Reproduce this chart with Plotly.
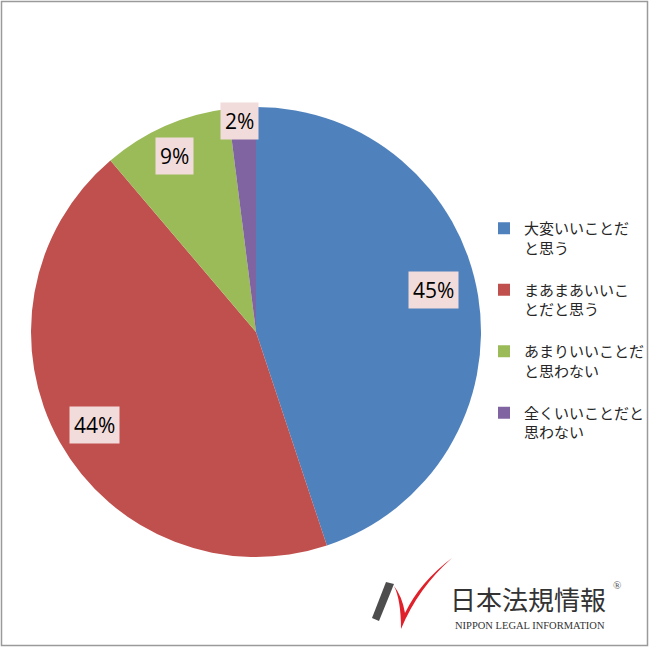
import math
import plotly.graph_objects as go

# ---- data ----
categories = ["大変いいことだと思う", "まあまあいいことだと思う", "あまりいいことだと思わない", "全くいいことだと思わない"]
legend_names = ["大変いいことだ<br>と思う", "まあまあいいこ<br>とだと思う", "あまりいいことだ<br>と思わない", "全くいいことだと<br>思わない"]
values = [44.9, 43.9, 9.2, 2.0]
colors = ["#4f81bd", "#c0504d", "#9bbb59", "#8064a2"]

W, H = 650, 649
cx, cy, R = 256, 332, 225  # pie centre / radius in px


def px(x):
    return x / W


def py(y):
    return 1 - y / H


fig = go.Figure()
fig.add_trace(go.Pie(
    labels=[n + "<br> " for n in legend_names],
    values=values,
    customdata=categories,
    marker=dict(colors=colors, line=dict(width=0)),
    sort=False,
    direction="clockwise",
    rotation=0,
    textinfo="none",
    hovertemplate="%{customdata}: %{percent}<extra></extra>",
    domain=dict(x=[px(cx - R), px(cx + R)], y=[py(cy + R), py(cy - R)]),
    showlegend=True,
))

# data labels with boxes (label radius fraction, angular nudge in degrees)
label_r = [0.81, 0.83, 0.86, 0.94]
label_nudge = [-4.0, -0.5, -1.0, -1.0]
total = sum(values)
cum = 0
annotations = []
for v, rf, nd in zip(values, label_r, label_nudge):
    mid = (cum + v / 2) / total * 2 * math.pi + math.radians(nd)
    cum += v
    lx = cx + rf * R * math.sin(mid)
    ly = cy - rf * R * math.cos(mid)
    annotations.append(dict(
        x=px(lx), y=py(ly), xref="paper", yref="paper",
        xanchor="center", yanchor="middle",
        text=f"{round(v / total * 100)}%", showarrow=False,
        font=dict(family="Open Sans, Noto Sans", size=21, color="#000000"),
        bgcolor="#f2dcdb", borderpad=4,
    ))

# logo texts
annotations.append(dict(x=px(528), y=py(598), xref="paper", yref="paper",
                        xanchor="center", yanchor="middle",
                        text="日本法規情報", showarrow=False,
                        font=dict(family="Noto Sans CJK JP", size=26, color="#333333")))
annotations.append(dict(x=px(617), y=py(585), xref="paper", yref="paper",
                        xanchor="center", yanchor="middle",
                        text="®", showarrow=False,
                        font=dict(family="Liberation Serif", size=11, color="#555555")))
annotations.append(dict(x=px(530), y=py(625), xref="paper", yref="paper",
                        xanchor="center", yanchor="middle",
                        text="NIPPON LEGAL INFORMATION", showarrow=False,
                        font=dict(family="Liberation Serif", size=10.5, color="#333333")))


def path(points):
    s = ""
    for cmd, pts in points:
        s += cmd + " " + " ".join(f"{px(a):.5f},{py(b):.5f}" for a, b in pts) + " "
    return s + "Z"


shapes = [
    dict(type="rect", xref="paper", yref="paper", x0=px(1.5), y0=py(1.5), x1=px(647.5), y1=py(645.5),
         line=dict(color="#9a9a9a", width=1.5), fillcolor="rgba(0,0,0,0)"),
    # grey pen
    dict(type="path", xref="paper", yref="paper",
         path=path([("M", [(372, 618)]), ("L", [(386, 582)]), ("L", [(394, 584)]), ("L", [(379, 621)])]),
         fillcolor="#4d4d4d", line=dict(width=0)),
    # red swoosh
    dict(type="path", xref="paper", yref="paper",
         path=path([("M", [(394, 586)]), ("Q", [(401, 600), (401, 629)]),
                    ("Q", [(418, 588), (452, 558)]),
                    ("Q", [(420, 582), (405, 613)]),
                    ("Q", [(402, 596), (394, 586)])]),
         fillcolor="#e0202a", line=dict(width=0)),
]

fig.update_layout(
    width=W, height=H,
    autosize=False,
    margin=dict(l=0, r=0, t=0, b=0, autoexpand=False),
    paper_bgcolor="#ffffff",
    plot_bgcolor="#ffffff",
    annotations=annotations,
    shapes=shapes,
    legend=dict(
        x=px(484), y=py(212), xanchor="left", yanchor="top",
        font=dict(family="Noto Sans CJK JP", size=15, color="#262626"),
        itemwidth=30, valign="top", bgcolor="rgba(0,0,0,0)",
        tracegroupgap=0,
    ),
)

fig.write_html(
    "out.html",
    config={"displayModeBar": False, "responsive": False},
    post_script="document.documentElement.style.margin='0';document.body.style.margin='0';"
                "document.body.style.overflow='hidden';document.documentElement.style.overflow='hidden';",
)
